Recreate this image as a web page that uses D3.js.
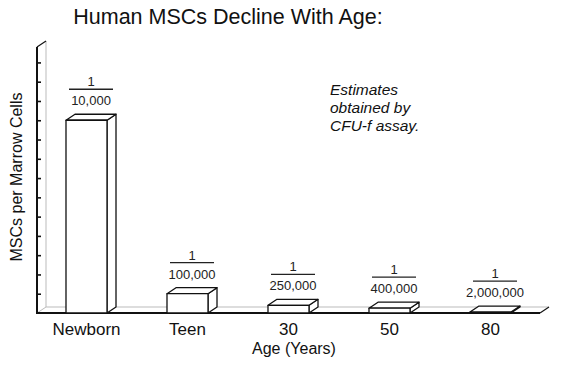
<!DOCTYPE html>
<html>
<head>
<meta charset="utf-8">
<script src="https://cdn.jsdelivr.net/npm/d3@7/dist/d3.min.js"></script>
<style>
  body { margin: 0; background: #fff; }
  svg { font-family: "Liberation Sans", Arial, sans-serif; }
</style>
</head>
<body>
<div id="chart"></div>
<script>
var ages = ["Newborn", "Teen", "30", "50", "80"];
var denominators = ["10,000", "100,000", "250,000", "400,000", "2,000,000"];
var frequencies = [1 / 10000, 1 / 100000, 1 / 250000, 1 / 400000, 1 / 2000000];
var yTicks = d3.range(1, 14).map(function(i) { return i * 1e-5; });
var noteLines = ["Estimates", "obtained by", "CFU-f assay."];

var width = 563, height = 370;
var depth = {x: 9, y: -6};   // 3d offset of the back face

var svg = d3.select("#chart").append("svg")
    .attr("width", width)
    .attr("height", height);

var x = d3.scaleBand()
    .domain(ages)
    .range([36, 541])
    .paddingInner(0.594)
    .paddingOuter(0.297);

var y = d3.scaleLinear()
    .domain([0, 1.38e-4])
    .range([313, 47]);

var x0 = 37, x1 = 540, y0 = y(0), yTop = y.range()[1];

// back wall and floor (faint)
var back = svg.append("g").attr("stroke", "#bbb").attr("stroke-width", 1).attr("fill", "none");
back.append("line").attr("x1", x0 + depth.x).attr("y1", yTop + depth.y).attr("x2", x0 + depth.x).attr("y2", y0 + depth.y);
back.append("line").attr("x1", x0 + depth.x).attr("y1", y0 + depth.y).attr("x2", x1 + depth.x).attr("y2", y0 + depth.y);
back.append("line").attr("x1", x0).attr("y1", y0).attr("x2", x0 + depth.x).attr("y2", y0 + depth.y);

// y axis with unlabeled ticks pointing inward
var yAxis = svg.append("g")
    .attr("transform", "translate(" + x0 + ",0)")
    .call(d3.axisRight(y).tickValues(yTicks).tickSize(4).tickFormat(""));
yAxis.select(".domain").remove();
yAxis.selectAll(".tick line").attr("stroke", "#111").attr("stroke-width", 1.6);

var axes = svg.append("g").attr("stroke", "#111").attr("fill", "none");
axes.append("line").attr("x1", x0).attr("y1", yTop).attr("x2", x0).attr("y2", y0).attr("stroke-width", 2);
axes.append("line").attr("x1", x0).attr("y1", yTop).attr("x2", x0 + depth.x).attr("y2", yTop + depth.y).attr("stroke-width", 1.2);
axes.append("line").attr("x1", x0 - 1).attr("y1", y0).attr("x2", x1).attr("y2", y0).attr("stroke-width", 2);
axes.append("line").attr("x1", x1).attr("y1", y0).attr("x2", x1 + depth.x).attr("y2", y0 + depth.y).attr("stroke-width", 1.2);

// 3d bars
var bars = svg.selectAll(".bar")
    .data(ages)
    .enter().append("g")
    .attr("class", "bar")
    .attr("fill", "#fff")
    .attr("stroke", "#111")
    .attr("stroke-width", 1.3)
    .attr("stroke-linejoin", "round");

bars.append("path")
    .attr("d", function(d, i) {
        var l = x(d), r = x(d) + x.bandwidth(), t = y(frequencies[i]);
        return "M" + r + "," + y0 + "L" + (r + depth.x) + "," + (y0 + depth.y) +
            "L" + (r + depth.x) + "," + (t + depth.y) + "L" + r + "," + t + "Z";
    });
bars.append("path")
    .attr("d", function(d, i) {
        var l = x(d), r = x(d) + x.bandwidth(), t = y(frequencies[i]);
        return "M" + l + "," + t + "L" + (l + depth.x) + "," + (t + depth.y) +
            "L" + (r + depth.x) + "," + (t + depth.y) + "L" + r + "," + t + "Z";
    });
bars.append("rect")
    .attr("x", function(d) { return x(d); })
    .attr("y", function(d, i) { return y(frequencies[i]); })
    .attr("width", x.bandwidth())
    .attr("height", function(d, i) { return y0 - y(frequencies[i]); });

// fraction labels above bars
var fr = svg.selectAll(".frac")
    .data(ages)
    .enter().append("g")
    .attr("class", "frac")
    .attr("transform", function(d, i) {
        return "translate(" + (x(d) + x.bandwidth() / 2 + depth.x / 2) + "," + (y(frequencies[i]) + depth.y) + ")";
    });
fr.append("text")
    .attr("text-anchor", "middle")
    .attr("y", -9)
    .attr("font-size", 13)
    .attr("fill", "#222")
    .text(function(d, i) { return denominators[i]; });
fr.append("line")
    .attr("x1", -22).attr("x2", 22)
    .attr("y1", -25).attr("y2", -25)
    .attr("stroke", "#222")
    .attr("stroke-width", 1.3);
fr.append("text")
    .attr("text-anchor", "middle")
    .attr("y", -28)
    .attr("font-size", 13)
    .attr("fill", "#222")
    .text("1");

// category labels
svg.selectAll(".cat")
    .data(ages)
    .enter().append("text")
    .attr("class", "cat")
    .attr("x", function(d) { return x(d) + x.bandwidth() / 2; })
    .attr("y", 335)
    .attr("text-anchor", "middle")
    .attr("font-size", 17)
    .attr("fill", "#111")
    .text(function(d) { return d; });

svg.append("text")
    .attr("x", 294)
    .attr("y", 354)
    .attr("text-anchor", "middle")
    .attr("font-size", 16)
    .attr("fill", "#111")
    .text("Age (Years)");

svg.append("text")
    .attr("transform", "translate(22,177) rotate(-90)")
    .attr("text-anchor", "middle")
    .attr("font-size", 16)
    .attr("fill", "#111")
    .text("MSCs per Marrow Cells");

svg.append("text")
    .attr("x", 228)
    .attr("y", 24)
    .attr("text-anchor", "middle")
    .attr("font-size", 21.5)
    .attr("fill", "#111")
    .text("Human MSCs Decline With Age:");

svg.append("g").selectAll("text")
    .data(noteLines)
    .enter().append("text")
    .attr("x", 330)
    .attr("y", function(d, i) { return 95 + i * 18; })
    .attr("font-size", 15.5)
    .attr("font-style", "italic")
    .attr("fill", "#111")
    .text(function(d) { return d; });
</script>
</body>
</html>
